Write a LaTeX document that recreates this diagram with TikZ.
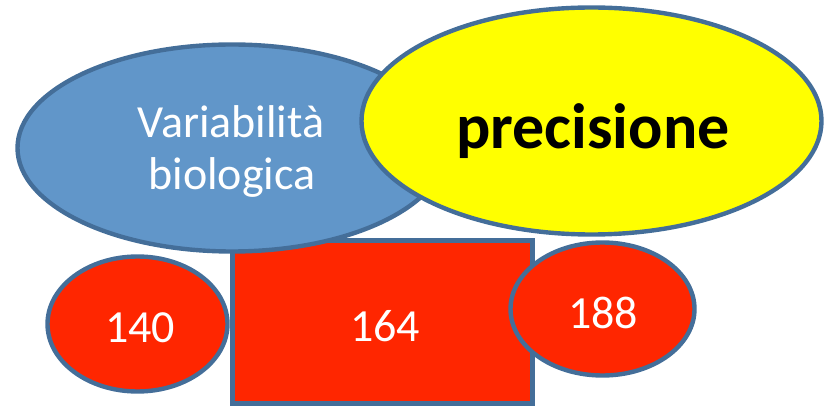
\documentclass[tikz,border=0pt]{standalone}
\usepackage{fontspec}
\setmainfont{Carlito}
\usetikzlibrary{shapes.geometric}
\definecolor{bordblue}{RGB}{68,110,153}
\definecolor{fillblue}{RGB}{97,150,201}
\definecolor{fillred}{RGB}{255,38,0}
\definecolor{fillyellow}{RGB}{255,255,0}
\tikzset{
  shapebox/.style={draw=bordblue, line width=4.4pt, inner sep=0pt, outer sep=0pt},
  ovalbox/.style={shapebox, ellipse},
  whitetxt/.style={text=white, font=\fontsize{46}{52}\selectfont, inner sep=0pt, anchor=base},
}
\begin{document}
\begin{tikzpicture}[x=1pt,y=-1pt]
\useasboundingbox (0,0) rectangle (826,411);
% rectangle
\node[shapebox, fill=fillred, minimum width=300pt, minimum height=163pt] (rect) at (382.5,322) {};
% blue ellipse
\node[ovalbox, fill=fillblue, minimum width=429pt, minimum height=207pt] (bio) at (232,148) {};
% left red ellipse
\node[ovalbox, fill=fillred, minimum width=180pt, minimum height=135pt] (left) at (137.5,324) {};
% right red ellipse
\node[ovalbox, fill=fillred, minimum width=184pt, minimum height=133pt] (right) at (602.5,309) {};
% yellow ellipse
\node[ovalbox, fill=fillyellow, minimum width=460pt, minimum height=227pt] (prec) at (591.5,121) {};
% texts
\node[whitetxt] (biot1) at (231,138) {Variabilità};
\node[whitetxt] (biot2) at (232,190) {biologica};
\node[inner sep=0pt, anchor=base, font=\fontsize{64}{70}\selectfont\bfseries] (prect) at (593,149) {precisione};
\node[whitetxt] (t140) at (140,342) {140};
\node[whitetxt] (t164) at (385,341) {164};
\node[whitetxt] (t188) at (603,328) {188};
\end{tikzpicture}
\end{document}
